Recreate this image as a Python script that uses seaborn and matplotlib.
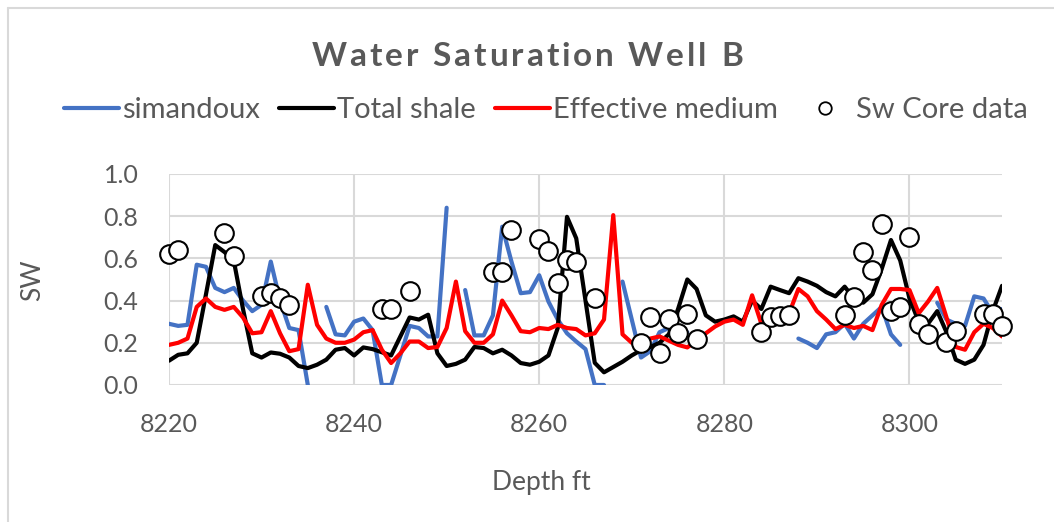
# Water saturation comparison, Well B

import numpy as np
import pandas as pd
import matplotlib
matplotlib.use("Agg")
import matplotlib.pyplot as plt
from matplotlib.lines import Line2D
import seaborn as sns

sns.set_style("white")
plt.rcParams['font.family'] = ['Lato', 'DejaVu Sans']

nan = np.nan

# depth samples, 1 ft apart
depth = list(range(8220, 8311))

simandoux = [0.29, 0.28, 0.285, 0.57, 0.56, 0.46, 0.44, 0.46, 0.40, 0.35,
             0.38, 0.585, 0.40, 0.27, 0.26, 0.0, nan, 0.37, 0.24, 0.235,
             0.30, 0.315, 0.26, 0.0, 0.0, 0.14, 0.28, 0.27, 0.23, 0.23,
             0.84, nan, 0.45, 0.235, 0.235, 0.33, 0.75, 0.585, 0.435, 0.44,
             0.52, 0.395, 0.31, 0.245, 0.206, 0.17, 0.0, 0.0, nan, 0.49,
             0.31, 0.13, 0.16, 0.25, 0.27, 0.26, 0.25, nan, nan, nan,
             nan, nan, nan, nan, nan, nan, nan, nan, 0.22, 0.20,
             0.175, 0.24, 0.25, 0.29, 0.22, 0.29, 0.33, 0.37, 0.24, 0.19,
             nan, nan, nan, 0.39, 0.31, 0.29, 0.28, 0.42, 0.41, 0.34,
             0.36]

total_shale = [0.115, 0.143, 0.15, 0.20, 0.43, 0.663, 0.63, 0.59, 0.36, 0.15,
               0.13, 0.154, 0.148, 0.13, 0.09, 0.08, 0.096, 0.12, 0.167, 0.175,
               0.14, 0.178, 0.17, 0.155, 0.14, 0.23, 0.32, 0.31, 0.333, 0.15,
               0.09, 0.10, 0.12, 0.18, 0.175, 0.15, 0.167, 0.14, 0.104, 0.096,
               0.11, 0.14, 0.27, 0.797, 0.695, 0.40, 0.105, 0.06, 0.085, 0.11,
               0.14, 0.165, 0.18, 0.20, 0.24, 0.36, 0.50, 0.455, 0.33, 0.30,
               0.31, 0.325, 0.30, 0.40, 0.36, 0.466, 0.45, 0.435, 0.506, 0.49,
               0.47, 0.44, 0.42, 0.466, 0.41, 0.39, 0.43, 0.55, 0.687, 0.59,
               0.41, 0.30, 0.29, 0.35, 0.25, 0.12, 0.10, 0.12, 0.19, 0.35,
               0.47]

effective_medium = [0.19, 0.20, 0.22, 0.37, 0.41, 0.37, 0.356, 0.37, 0.32, 0.245,
                    0.25, 0.35, 0.245, 0.16, 0.17, 0.475, 0.285, 0.22, 0.20, 0.20,
                    0.215, 0.25, 0.26, 0.167, 0.104, 0.15, 0.206, 0.206, 0.175, 0.18,
                    0.27, 0.49, 0.255, 0.20, 0.20, 0.24, 0.40, 0.33, 0.255, 0.25,
                    0.27, 0.265, 0.285, 0.27, 0.265, 0.235, 0.245, 0.31, 0.805, 0.24,
                    0.20, 0.19, 0.22, 0.23, 0.21, 0.19, 0.178, 0.21, 0.245, 0.277,
                    0.30, 0.31, 0.285, 0.425, 0.29, 0.30, 0.32, 0.34, 0.455, 0.42,
                    0.35, 0.31, 0.265, 0.285, 0.27, 0.28, 0.26, 0.38, 0.455, 0.455,
                    0.45, 0.34, 0.395, 0.46, 0.32, 0.18, 0.167, 0.25, 0.29, 0.27,
                    0.23]

core_depth = [8220, 8221, 8226, 8227, 8230, 8231, 8232, 8233, 8243, 8244,
              8246, 8255, 8256, 8257, 8260, 8261, 8262, 8263, 8264, 8266,
              8271, 8272, 8273, 8274, 8275, 8276, 8277, 8284, 8285, 8286,
              8287, 8293, 8294, 8295, 8296, 8297, 8298, 8299, 8300, 8301,
              8302, 8304, 8305, 8308, 8309, 8310]
core_sw = [0.62, 0.64, 0.72, 0.61, 0.42, 0.435, 0.41, 0.38, 0.36, 0.36,
           0.445, 0.535, 0.535, 0.735, 0.69, 0.635, 0.485, 0.59, 0.585, 0.41,
           0.20, 0.32, 0.15, 0.315, 0.245, 0.335, 0.22, 0.25, 0.32, 0.325,
           0.33, 0.33, 0.415, 0.63, 0.545, 0.765, 0.35, 0.37, 0.70, 0.29,
           0.24, 0.205, 0.255, 0.335, 0.335, 0.28]

models = ["simandoux", "Total shale", "Effective medium"]
colors = {"simandoux": "#4472C4", "Total shale": "#000000", "Effective medium": "#FF0000"}

# long table; a new segment starts after each gap so lines break there
frames = []
for name, vals in zip(models, [simandoux, total_shale, effective_medium]):
    d = pd.DataFrame({"depth": depth, "sw": vals, "model": name})
    d["seg"] = name + d["sw"].isna().cumsum().astype(str)
    frames.append(d.dropna())
logs = pd.concat(frames, ignore_index=True)
core = pd.DataFrame({"depth": core_depth, "sw": core_sw})

fig = plt.figure(figsize=(10.54, 5.22), dpi=100)
ax = fig.add_axes([0.1603, 0.2625, 0.7904, 0.4042])

sns.lineplot(data=logs, x="depth", y="sw", hue="model", units="seg",
             estimator=None, sort=False, palette=colors, linewidth=3,
             legend=False, ax=ax, zorder=3)
sns.scatterplot(data=core, x="depth", y="sw", marker="o", s=180,
                facecolor="white", edgecolor="black", linewidth=1.5,
                ax=ax, zorder=4, legend=False, clip_on=False)

grey = "#595959"
ax.set_xlim(8220, 8310)
ax.set_ylim(0, 1.0)
ax.set_xticks([8220, 8240, 8260, 8280, 8300])
ax.set_yticks(np.arange(0, 1.01, 0.2))
ax.set_yticklabels([f"{v:.1f}" for v in np.arange(0, 1.01, 0.2)])
ax.grid(True, color="#d9d9d9", linewidth=1.5)
ax.set_axisbelow(True)
for s in ax.spines.values():
    s.set_visible(False)
ax.tick_params(axis="both", length=0, labelsize=18, labelcolor=grey)
ax.tick_params(axis="y", pad=22)
ax.tick_params(axis="x", pad=20)
ax.set_xlabel("Depth ft", fontsize=19, color=grey)
ax.xaxis.set_label_coords(0.4466, -0.464)
ax.xaxis.label.set_va("center")
ax.set_ylabel("SW", fontsize=19, color=grey)
ax.yaxis.set_label_coords(-0.163, 0.497)
ax.yaxis.label.set_va("center")

# title with extra letter spacing, placed one character at a time
title = "Water Saturation Well B"
tkw = dict(fontsize=24, fontweight="bold", color=grey, va="center", ha="left")
renderer = fig.canvas.get_renderer()

def text_width(s):
    t = fig.text(0, 0, s, **tkw)
    w = t.get_window_extent(renderer).width
    t.remove()
    return w

gap = 3.0
full = text_width(title) + gap * (len(title) - 1)
x0 = 527 - full / 2
for i, ch in enumerate(title):
    if ch == " ":
        continue
    left = text_width(title[:i + 1]) - text_width(ch) + gap * i
    fig.text((x0 + left) / 1054, 1 - 57 / 522, ch, **tkw)

handles = [Line2D([], [], color=colors[m], linewidth=3) for m in models]
handles.append(Line2D([], [], linestyle="none", marker="o", markersize=9,
                      markerfacecolor="white", markeredgecolor="black",
                      markeredgewidth=1.3))
fig.legend(handles, models + ["Sw Core data"], loc="center",
           bbox_to_anchor=(0.5176, 0.789), ncol=4, frameon=False,
           fontsize=21, labelcolor=grey, handlelength=1.9,
           handletextpad=0.1, columnspacing=0.65)

# chart area border (top and left edges visible)
fig.add_artist(Line2D([0.0075, 1.0], [0.985, 0.985], color="#d9d9d9",
                      linewidth=1.5, transform=fig.transFigure))
fig.add_artist(Line2D([0.0075, 0.0075], [0.0, 0.985], color="#d9d9d9",
                      linewidth=1.5, transform=fig.transFigure))

fig.savefig("out.png", dpi=100)
